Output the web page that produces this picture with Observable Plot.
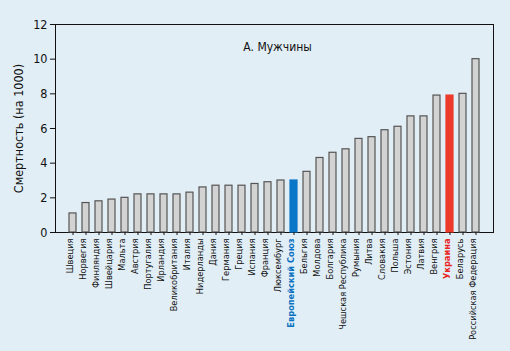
<!DOCTYPE html>
<html>
<head>
<meta charset="utf-8">
<script src="https://cdn.jsdelivr.net/npm/d3@7"></script>
<script src="https://cdn.jsdelivr.net/npm/@observablehq/plot@0.6"></script>
<style>
  html, body { margin: 0; padding: 0; background: #e2eef5; }
  #chart svg { display: block; }
</style>
</head>
<body>
<div id="chart"></div>
<script>
const countries = ["Швеция","Норвегия","Финляндия","Швейцария","Мальта","Австрия","Португалия","Ирландия","Великобритания","Италия","Нидерланды","Дания","Германия","Греция","Испания","Франция","Люксембург","Европейский Союз","Бельгия","Молдова","Болгария","Чешская Республика","Румыния","Литва","Словакия","Польша","Эстония","Латвия","Венгрия","Украина","Беларусь","Российская Федерация"];
const mortality = [1.1,1.7,1.8,1.9,2.0,2.2,2.2,2.2,2.2,2.3,2.6,2.7,2.7,2.7,2.8,2.9,3.0,3.0,3.5,4.3,4.6,4.8,5.4,5.5,5.9,6.1,6.7,6.7,7.9,7.9,8.0,10.0];
const yTicks = [0,2,4,6,8,10,12];
const title = "А. Мужчины";
const yLabel = "Смертность (на 1000)";
const highlight = {"Европейский Союз": "#0b77c8", "Украина": "#ec3b2a"};
const labelHighlight = {"Европейский Союз": "#0a72c2", "Украина": "#e8231c"};

const data = countries.map((c, i) => ({country: c, value: mortality[i]}));
const plainLabels = countries.filter(c => !labelHighlight[c]);
const boldLabels = countries.filter(c => labelHighlight[c]);

const chart = Plot.plot({
  width: 510,
  height: 351,
  marginLeft: 55,
  marginRight: 17,
  marginTop: 24,
  marginBottom: 119,
  style: {background: "#e2eef5", fontFamily: "DejaVu Sans Condensed, Liberation Sans Narrow, sans-serif", color: "#111"},
  x: {domain: countries, padding: 0.48, label: null},
  y: {domain: [0, 12], label: null},
  marks: [
    Plot.frame({stroke: "#111", strokeWidth: 1}),
    Plot.barY(data, {
      x: "country", y: "value",
      fill: d => highlight[d.country] || "#d3d3d3",
      stroke: d => highlight[d.country] ? highlight[d.country] : "#555",
      strokeWidth: 1.2
    }),
    Plot.axisY({ticks: yTicks, tickSize: 5, tickPadding: 3, fontSize: 12.5, label: yLabel, labelAnchor: "center", labelArrow: "none", labelOffset: 41}),
    Plot.axisX({tickSize: 3, text: null, label: null}),
    Plot.text(plainLabels, {
      x: d => d, frameAnchor: "bottom", dy: 6, rotate: -90, textAnchor: "end",
      fontSize: 9.2, fill: "#111"
    }),
    Plot.text(boldLabels, {
      x: d => d, frameAnchor: "bottom", dy: 6, rotate: -90, textAnchor: "end",
      fontSize: 9.2, fontWeight: "bold", fill: d => labelHighlight[d]
    }),
    Plot.text([title], {frameAnchor: "top", dx: 3, dy: 18, fontSize: 12, fill: "#111"})
  ]
});
document.getElementById("chart").appendChild(chart);
</script>
</body>
</html>
